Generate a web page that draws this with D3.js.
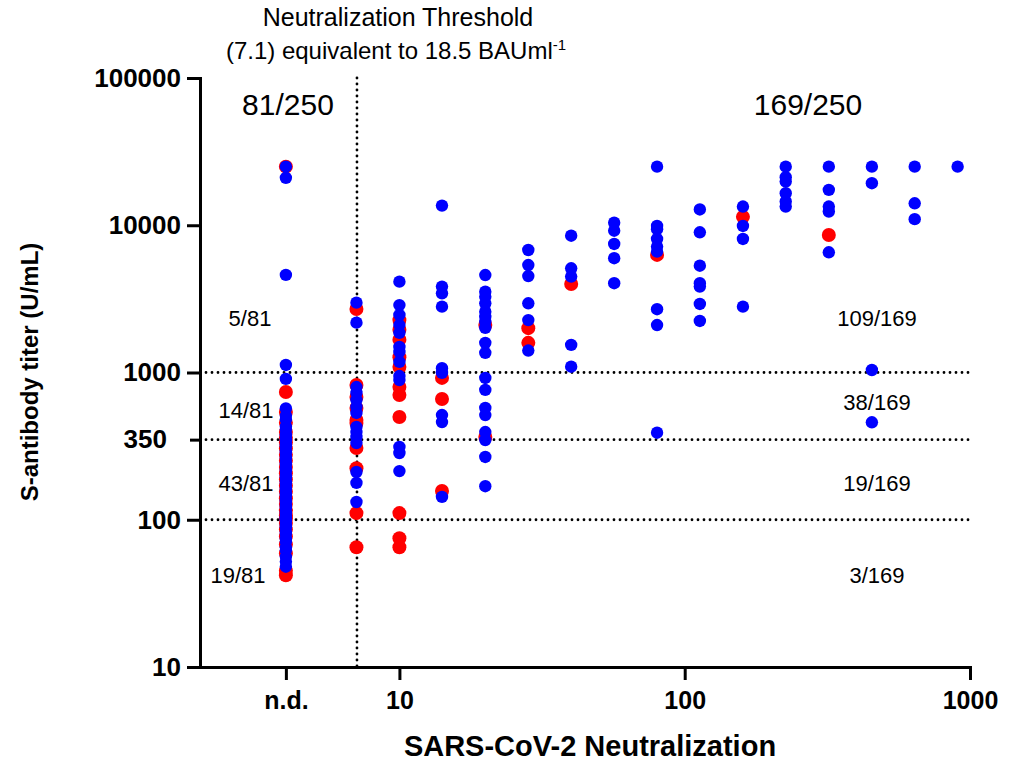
<!DOCTYPE html>
<html>
<head>
  <meta charset="utf-8">
  <title>S-antibody titer vs neutralization</title>
  <style type="text/css">
  body { margin: 0; background: #fff; }
  text { font-family: "Liberation Sans", Arial, sans-serif; }
  .axis path, .axis line { stroke: #000; stroke-width: 3px; }
  .axis path { stroke-linecap: square; }
  .axis text { font-size: 25px; font-weight: bold; fill: #000; }
  .dotted { stroke: #000; stroke-width: 2.8px; stroke-dasharray: 0 6; stroke-linecap: round; }
  </style>
</head>
<body>
<script src="https://d3js.org/d3.v7.min.js"></script>
<div id="chart"></div>
<script>

// neutralization columns (n.d. plotted at 4)
var neutColumns = [4, 7.07, 10, 14.1, 20, 28.3, 40, 56.6, 80, 113, 160, 226, 320, 453, 640, 905];

// blue series, one list of titers per column
var blueTiters = [
  [25000, 21000, 4600, 1125, 905, 570, 510, 480, 430, 410, 380, 370, 352,
   345, 325, 315, 295, 285, 268, 260, 244, 236, 221, 214, 200, 194, 182, 176, 165, 160,
   150, 145, 136, 132, 124, 120, 113, 110, 105, 103, 101, 100.5,
   98, 92, 89, 83, 80, 74, 71, 65, 62, 56, 52, 48],
  [2980, 2180, 797, 727, 651, 583, 531, 427, 394, 365, 332, 211, 178, 132],
  [4140, 2870, 2460, 2100, 1860, 1490, 1380, 1180, 946, 889, 312, 284, 214],
  [13600, 3830, 3450, 2800, 1070, 994, 514, 461, 143],
  [4590, 3540, 3270, 2950, 2590, 2390, 2210, 2010, 1590, 1360, 918, 762, 574, 514, 394, 348, 267, 169],
  [6790, 5370, 4520, 2950, 2270, 1410],
  [8490, 5100, 4480, 1540, 1095],
  [10400, 9180, 7460, 5970, 4040],
  [25000, 9890, 9400, 8070, 7160, 6620, 2690, 2100, 390],
  [12800, 8960, 5310, 4040, 3830, 2920, 2240],
  [13400, 9890, 8070, 2800],
  [25000, 21200, 19800, 16500, 14500, 13400],
  [25000, 17400, 13400, 12400, 6550],
  [25000, 19300, 1040, 459],
  [25000, 14100, 11000],
  [25000]
];

// red series
var redTiters = [
  [25000, 738, 540, 455, 395, 360,
   335, 305, 276, 252, 228, 207, 188, 170, 155, 140, 128, 116, 107, 102,
   95, 86, 77, 68, 59, 45, 42],
  [2700, 822, 683, 574, 476, 454, 307, 224, 111, 65],
  [2270, 1950, 1670, 1270, 1090, 797, 703, 499, 111, 75, 65],
  [919, 661, 157],
  [2100, 365],
  [2000, 1590],
  [3990],
  [],
  [6290],
  [],
  [11400],
  [],
  [8590],
  [],
  [],
  []
];

var yTickValues = [10, 100, 350, 1000, 10000, 100000];
var xTickValues = [4, 10, 100, 1000];
var cutoffs = [100, 350, 1000];
var threshold = 7.1;

var leftCounts = ["5/81", "14/81", "43/81", "19/81"];
var rightCounts = ["109/169", "38/169", "19/169", "3/169"];

var width = 1012,
    height = 762;

var svg = d3.select("#chart")
  .append("svg")
    .attr("width", width)
    .attr("height", height);

var x = d3.scaleLog().domain([2, 1000]).range([200, 970]);
var y = d3.scaleLog().domain([10, 100000]).range([667, 78]);

// flatten series into points
function toPoints(series) {
  var pts = [];
  series.forEach(function(list, i) {
    list.forEach(function(v) { pts.push({ x: neutColumns[i], y: v }); });
  });
  return pts;
}

// dotted reference lines
svg.append("g")
  .selectAll("line")
  .data(cutoffs)
  .enter()
  .append("line")
    .attr("class", "dotted")
    .attr("x1", x(2) + 6)
    .attr("x2", x(1000) + 4)
    .attr("y1", function(d) { return y(d); })
    .attr("y2", function(d) { return y(d); });

svg.append("line")
  .attr("class", "dotted")
  .attr("x1", x(threshold))
  .attr("x2", x(threshold))
  .attr("y1", y(100000))
  .attr("y2", y(10));

// points: red underneath, blue on top
svg.append("g")
  .selectAll("circle")
  .data(toPoints(redTiters))
  .enter()
  .append("circle")
    .attr("cx", function(d) { return x(d.x); })
    .attr("cy", function(d) { return y(d.y); })
    .attr("r", 7)
    .attr("fill", "#ff0000");

svg.append("g")
  .selectAll("circle")
  .data(toPoints(blueTiters))
  .enter()
  .append("circle")
    .attr("cx", function(d) { return x(d.x); })
    .attr("cy", function(d) { return y(d.y); })
    .attr("r", 6.2)
    .attr("fill", "#0000ff");

// axes
var yAxis = svg.append("g")
  .attr("class", "axis")
  .attr("transform", "translate(200,0)")
  .call(d3.axisLeft(y)
    .tickValues(yTickValues)
    .tickFormat(d3.format("d"))
    .tickSize(13)
    .tickSizeOuter(0)
    .tickPadding(6));

yAxis.selectAll("text").style("font-size", "26px");

// the 350 label sits a little further from its tick
yAxis.selectAll(".tick")
  .filter(function(d) { return d === 350; })
  .select("line").attr("x2", -10);
yAxis.selectAll(".tick")
  .filter(function(d) { return d === 350; })
  .select("text").attr("x", -33);

svg.append("g")
  .attr("class", "axis")
  .attr("transform", "translate(0,667)")
  .call(d3.axisBottom(x)
    .tickValues(xTickValues)
    .tickFormat(function(d) { return d === 4 ? "n.d." : d; })
    .tickSize(13)
    .tickSizeOuter(0)
    .tickPadding(11));

// axis titles
svg.append("text")
  .attr("x", 590)
  .attr("y", 756)
  .attr("text-anchor", "middle")
  .style("font-size", "29px")
  .style("font-weight", "bold")
  .text("SARS-CoV-2 Neutralization");

svg.append("text")
  .attr("transform", "translate(38,372) rotate(-90)")
  .attr("text-anchor", "middle")
  .style("font-size", "24px")
  .style("font-weight", "bold")
  .text("S-antibody titer (U/mL)");

// threshold note
svg.append("text")
  .attr("x", 398)
  .attr("y", 26)
  .attr("text-anchor", "middle")
  .style("font-size", "25px")
  .text("Neutralization Threshold");

var note = svg.append("text")
  .attr("x", 396)
  .attr("y", 59)
  .attr("text-anchor", "middle")
  .style("font-size", "24px");
note.append("tspan").text("(7.1) equivalent to 18.5 BAUml");
note.append("tspan").attr("dy", -9).style("font-size", "15px").text("-1");

// group totals
svg.append("text")
  .attr("x", 288).attr("y", 115)
  .attr("text-anchor", "middle")
  .style("font-size", "30px")
  .text("81/250");

svg.append("text")
  .attr("x", 808).attr("y", 115)
  .attr("text-anchor", "middle")
  .style("font-size", "30px")
  .text("169/250");

// band counts
var bandY = [326, 418, 491, 583];
var leftX = [250, 246, 246, 238];

svg.append("g")
  .selectAll("text")
  .data(leftCounts)
  .enter()
  .append("text")
    .attr("x", function(d, i) { return leftX[i]; })
    .attr("y", function(d, i) { return bandY[i]; })
    .attr("text-anchor", "middle")
    .style("font-size", "22px")
    .text(function(d) { return d; });

svg.append("g")
  .selectAll("text")
  .data(rightCounts)
  .enter()
  .append("text")
    .attr("x", 877)
    .attr("y", function(d, i) { return bandY[i] + (i === 1 ? -8 : 0); })
    .attr("text-anchor", "middle")
    .style("font-size", "22px")
    .text(function(d) { return d; });

</script>
</body>
</html>
